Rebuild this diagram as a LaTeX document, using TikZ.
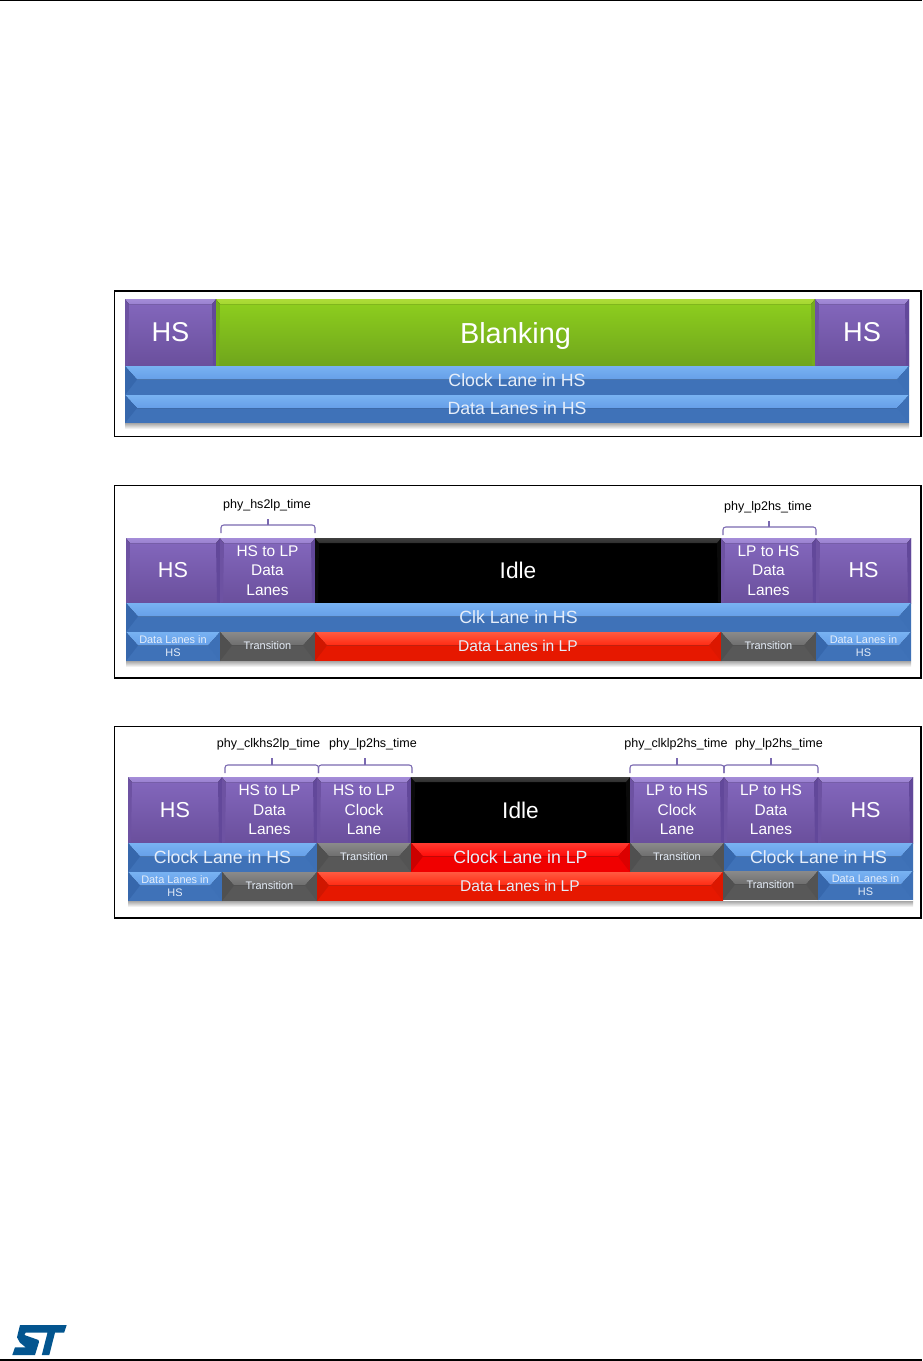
\documentclass[tikz,border=0pt]{standalone}
\usepackage{fontspec}
\setmainfont{Liberation Sans}
\definecolor{purS}{HTML}{A48CD8}\definecolor{purT}{HTML}{8468BE}\definecolor{purB}{HTML}{6A4F9C}\definecolor{purL}{HTML}{6D52A2}\definecolor{purR}{HTML}{62489A}
\definecolor{grnS}{HTML}{AEDC38}\definecolor{grnT}{HTML}{8FD01E}\definecolor{grnB}{HTML}{6FA51C}\definecolor{grnL}{HTML}{76AE1C}\definecolor{grnR}{HTML}{76AE1C}
\definecolor{blkS}{HTML}{404040}\definecolor{blkT}{HTML}{000000}\definecolor{blkB}{HTML}{000000}\definecolor{blkL}{HTML}{0A0A0A}\definecolor{blkR}{HTML}{0A0A0A}
\definecolor{bluS}{HTML}{78B2F2}\definecolor{bluT}{HTML}{669FE8}\definecolor{bluB}{HTML}{3F72B8}\definecolor{bluL}{HTML}{3667AC}\definecolor{bluR}{HTML}{3D70B6}
\definecolor{gryS}{HTML}{8A8A8A}\definecolor{gryT}{HTML}{6E6E6E}\definecolor{gryB}{HTML}{585858}\definecolor{gryL}{HTML}{505050}\definecolor{gryR}{HTML}{535353}
\definecolor{redS}{HTML}{FF5A40}\definecolor{redT}{HTML}{FF2A12}\definecolor{redB}{HTML}{E61800}\definecolor{redL}{HTML}{D01600}\definecolor{redR}{HTML}{DC1700}
\definecolor{rdbS}{HTML}{FF3A30}\definecolor{rdbT}{HTML}{FF0A08}\definecolor{rdbB}{HTML}{F00000}\definecolor{rdbL}{HTML}{CC0000}\definecolor{rdbR}{HTML}{DC0000}
\definecolor{stblue}{HTML}{03558F}
\definecolor{bracecol}{HTML}{7A69B0}
\definecolor{paletext}{HTML}{E6EEF9}
\tikzset{
  frameline/.style={draw=black,line width=0.9pt,fill=white},
  rulerline/.style={draw=black,line width=0.9pt},
  boxtext/.style={text=white,align=center,inner sep=0pt},
  lanetext/.style={text=paletext,align=center,inner sep=0pt},
  timelabel/.style={text=black,inner sep=0pt,font=\fontsize{9.4}{11}\selectfont},
  timebrace/.style={draw=bracecol,line width=0.8pt,rounded corners=2pt},
  fbig/.style={font=\fontsize{20.4}{24}\selectfont},
  fblank/.style={font=\fontsize{21.7}{26}\selectfont,yshift=-3pt},
  fhs/.style={font=\fontsize{16.2}{20}\selectfont},
  fidle/.style={font=\fontsize{17}{20}\selectfont},
  fthree/.style={font=\fontsize{11.6}{14.6}\selectfont},
  flane/.style={font=\fontsize{13.3}{16}\selectfont},
  fmid/.style={font=\fontsize{11.7}{14}\selectfont},
  fsmall/.style={font=\fontsize{8.2}{9.6}\selectfont},
}
% name, x0,y0,x1,y1, palette, font style, text  -- flat-faced box with thin bevel
\newcommand{\facebox}[8]{%
  \fill[top color=#6T,bottom color=#6B] (#2,#3) rectangle (#4,#5);
  \fill[#6L] (#2,#3) -- (#2+4,#3+5) -- (#2+3,#5-1) -- (#2,#5) -- cycle;
  \fill[#6R] (#4,#3) -- (#4-4,#3+5) -- (#4-3,#5-1) -- (#4,#5) -- cycle;
  \fill[top color=#6S,bottom color=#6S!70!#6T] (#2,#3) -- (#4,#3) -- (#4-4,#3+5) -- (#2+4,#3+5) -- cycle;
  \node[boxtext,#7] (#1) at ({(#2+#4)/2},{(#3+#5)/2}) {#8};
}
% name, x0,y0,x1,y1, palette, font style, text -- two-tone lane with arrow-like ends
\newcommand{\lanebox}[8]{%
  \fill[#6B] (#2,#3) rectangle (#4,#5);
  \fill[top color=#6S,bottom color=#6T] (#2,#3) -- (#4,#3) -- (#4-12,{(#3+#5)/2-1}) -- (#2+12,{(#3+#5)/2-1}) -- cycle;
  \fill[#6L] (#2,#3) -- (#2+12,{(#3+#5)/2-1}) -- (#2,#5) -- cycle;
  \fill[#6R] (#4,#3) -- (#4-12,{(#3+#5)/2-1}) -- (#4,#5) -- cycle;
  \node[lanetext,#7] (#1) at ({(#2+#4)/2},{(#3+#5)/2-0.5}) {#8};
}
% name, x0,x1,tick x,y top,y bottom,y tick top
\newcommand{\bracemark}[7]{%
  \coordinate (#1-l) at (#2,#6);
  \coordinate (#1-r) at (#3,#6);
  \coordinate (#1-tl) at (#2,#5);
  \coordinate (#1-tr) at (#3,#5);
  \coordinate (#1-m) at (#4,#5);
  \coordinate (#1-t) at (#4,#7);
  \draw[timebrace] (#1-l) -- (#1-tl) -- (#1-tr) -- (#1-r);
  \draw[draw=bracecol,line width=0.8pt] (#1-m) -- (#1-t);
}
\newcommand{\shadowband}[3]{%
  \fill[top color=black!35,bottom color=white] (#1,#3) rectangle (#2,#3+6);
}
\begin{document}
\begin{tikzpicture}[x=0.75pt,y=-0.75pt]
\useasboundingbox (0,0) rectangle (922,1361);
\fill[white] (0,0) rectangle (922,1361);
% page rules
\coordinate (topa) at (0,0.6);\coordinate (topb) at (922,0.6);
\coordinate (bota) at (0,1360);\coordinate (botb) at (922,1360);
\draw[rulerline] (topa) -- (topb);
\draw[rulerline] (bota) -- (botb);
% logo
\fill[stblue] (20,1325) -- (66.7,1325) -- (64.2,1332.6) -- (55,1332.6) -- (49.3,1355) -- (41.8,1355) -- (47.5,1332.6) -- (25.7,1332.6) -- (24.4,1335) -- (38.5,1340) -- (39,1342) -- (35,1355) -- (12.3,1355) -- (15,1347.3) -- (25.7,1347.3) -- (20,1342.7) -- (17,1337.3) -- cycle;
% ---------- panel 1
\draw[frameline] (114.5,291) rectangle (921,436.5);
\shadowband{125}{909}{423}
\facebox{aH}{125}{299}{216}{366}{pur}{fbig}{HS}
\facebox{aB}{216}{299}{815}{366}{grn}{fblank}{Blanking}
\facebox{aI}{815}{299}{909}{366}{pur}{fbig}{HS}
\lanebox{aC}{125}{366}{909}{395}{blu}{flane}{Clock Lane in HS}
\lanebox{aD}{125}{395}{909}{423}{blu}{flane}{Data Lanes in HS}
% ---------- panel 2
\draw[frameline] (114.5,485.5) rectangle (921,678);
\shadowband{126}{911}{661}
\facebox{bH}{126}{538}{220}{603}{pur}{fhs}{HS}
\facebox{bT}{220}{538}{315}{603}{pur}{fthree}{HS to LP\\Data\\Lanes}
\facebox{bI}{315}{538}{721}{603}{blk}{fidle}{Idle}
\facebox{bU}{721}{538}{816}{603}{pur}{fthree}{LP to HS\\Data\\Lanes}
\facebox{bJ}{816}{538}{911}{603}{pur}{fhs}{HS}
\lanebox{bC}{126}{603}{911}{632}{blu}{flane}{Clk Lane in HS}
\lanebox{bD}{126}{632}{220}{661}{blu}{fsmall}{Data Lanes in\\HS}
\lanebox{bE}{220}{632}{315}{661}{gry}{fsmall}{Transition}
\lanebox{bF}{315}{632}{721}{661}{red}{fmid}{Data Lanes in LP}
\lanebox{bG}{721}{632}{816}{661}{gry}{fsmall}{Transition}
\lanebox{bK}{816}{632}{911}{661}{blu}{fsmall}{Data Lanes in\\HS}
\bracemark{bra}{221}{315}{268}{525}{533}{519}
\bracemark{brb}{723}{816}{769}{527}{535}{521}
\node[timelabel] (bl1) at (267,505) {phy\_hs2lp\_time};
\node[timelabel] (bl2) at (768,507) {phy\_lp2hs\_time};
% ---------- panel 3
\draw[frameline] (114.5,726.5) rectangle (921,918);
\shadowband{128}{913}{901}
\facebox{cH}{128}{777}{222}{843}{pur}{fhs}{HS}
\facebox{cT}{222}{777}{317}{843}{pur}{fthree}{HS to LP\\Data\\Lanes}
\facebox{cU}{317}{777}{411}{843}{pur}{fthree}{HS to LP\\Clock\\Lane}
\facebox{cI}{411}{777}{630}{843}{blk}{fidle}{Idle}
\facebox{cV}{630}{777}{724}{843}{pur}{fthree}{LP to HS\\Clock\\Lane}
\facebox{cW}{724}{777}{818}{843}{pur}{fthree}{LP to HS\\Data\\Lanes}
\facebox{cJ}{818}{777}{913}{843}{pur}{fhs}{HS}
\lanebox{cC}{128}{843}{317}{872}{blu}{flane}{Clock Lane in HS}
\lanebox{cE}{317}{843}{411}{872}{gry}{fsmall}{Transition}
\lanebox{cF}{411}{843}{630}{872}{rdb}{flane}{Clock Lane in LP}
\lanebox{cG}{630}{843}{724}{872}{gry}{fsmall}{Transition}
\lanebox{cK}{724}{843}{913}{872}{blu}{flane}{Clock Lane in HS}
\lanebox{cD}{128}{872}{222}{901}{blu}{fsmall}{Data Lanes in\\HS}
\lanebox{cL}{222}{872}{317}{901}{gry}{fsmall}{Transition}
\lanebox{cM}{317}{872}{723}{901}{red}{fmid}{Data Lanes in LP}
\lanebox{cN}{723}{871}{818}{900}{gry}{fsmall}{Transition}
\lanebox{cO}{818}{871}{913}{900}{blu}{fsmall}{Data Lanes in\\HS}
\bracemark{brc}{225}{318.5}{272}{765}{773}{758}
\bracemark{brd}{318.5}{412}{365}{765}{773}{758}
\bracemark{bre}{630}{724}{677}{765}{773}{758}
\bracemark{brf}{724}{818}{771}{765}{773}{758}
\node[timelabel] (cl1) at (268.5,744.5) {phy\_clkhs2lp\_time};
\node[timelabel] (cl2) at (373,744.5) {phy\_lp2hs\_time};
\node[timelabel] (cl3) at (676,744.5) {phy\_clklp2hs\_time};
\node[timelabel] (cl4) at (779,744.5) {phy\_lp2hs\_time};
\end{tikzpicture}
\end{document}
